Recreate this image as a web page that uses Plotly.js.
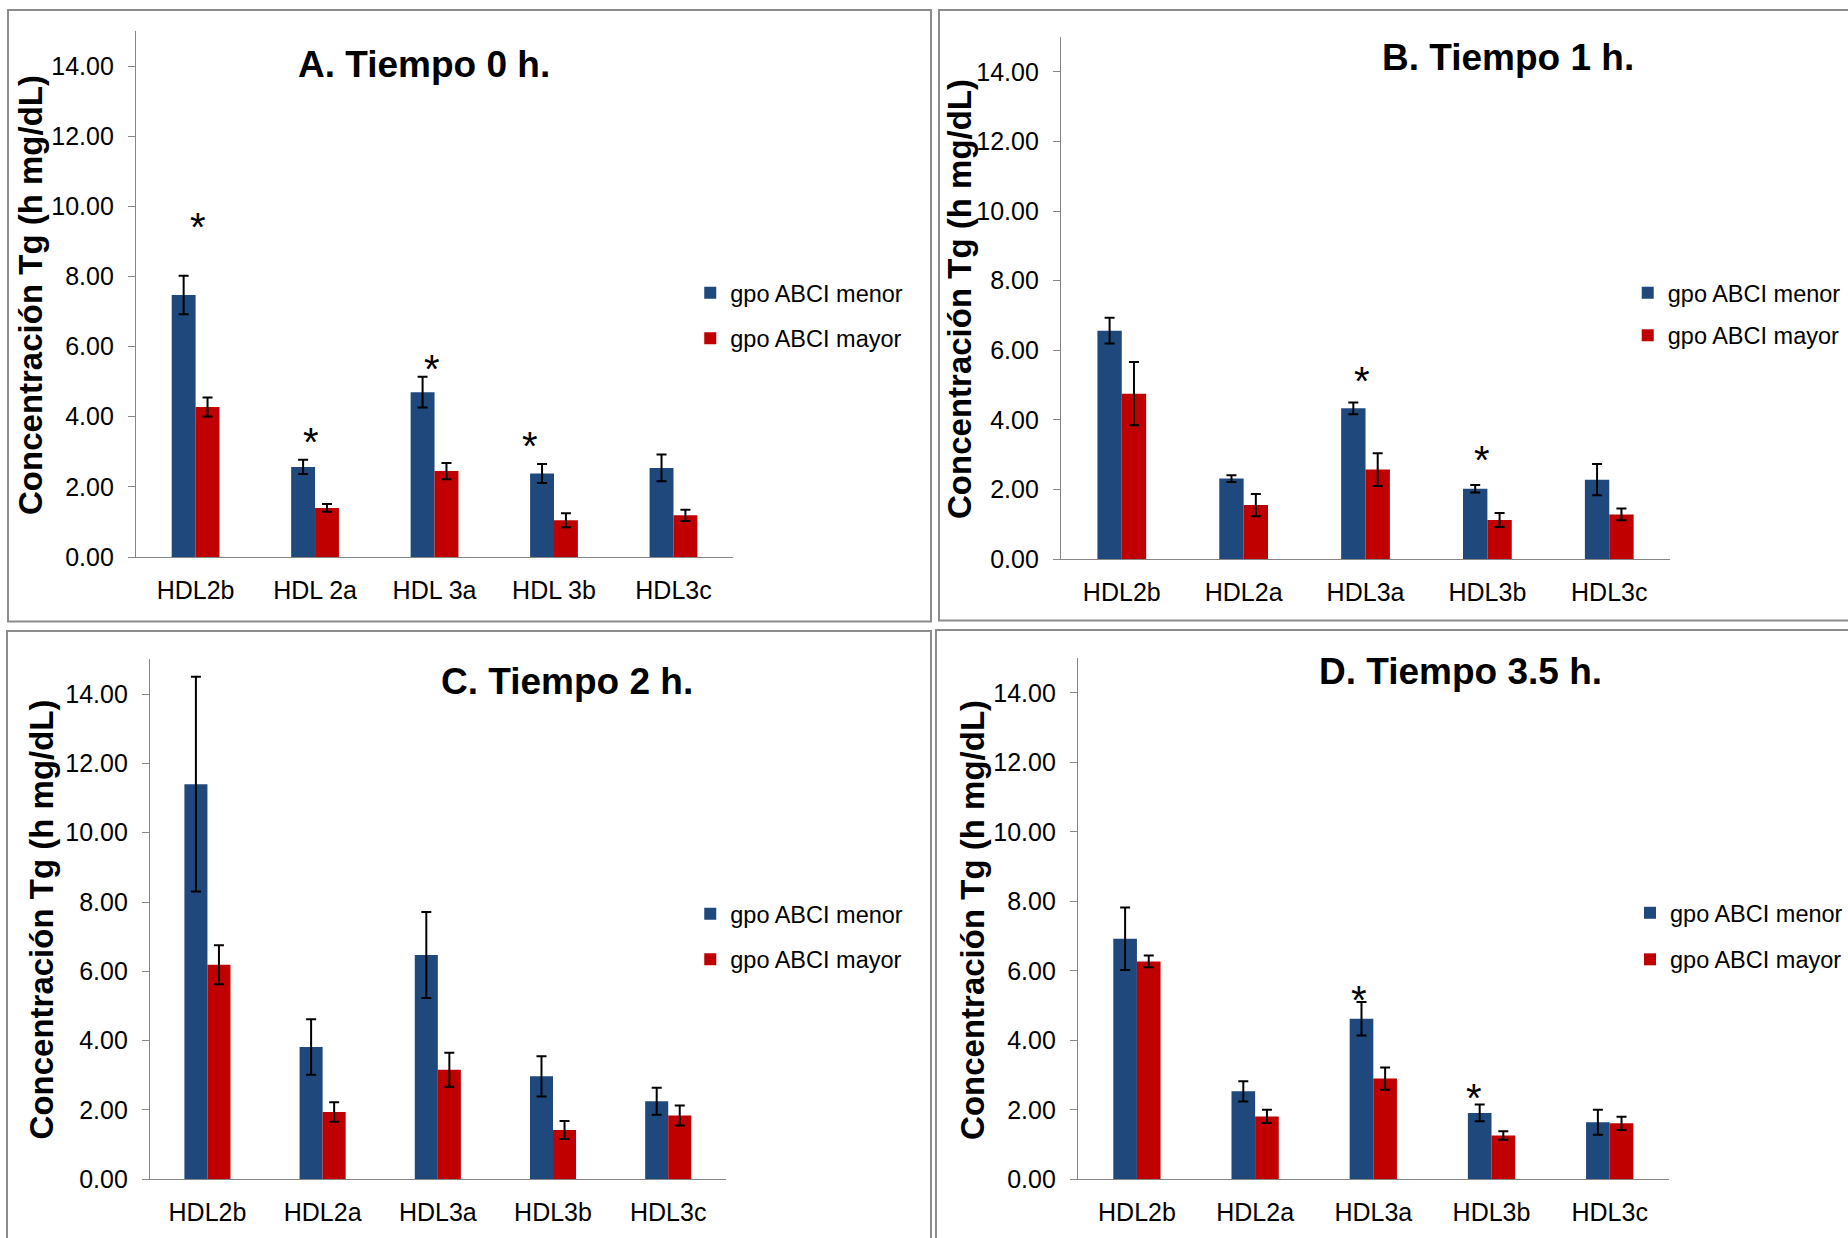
<!DOCTYPE html>
<html>
<head>
<meta charset="utf-8">
<script src="https://cdn.plot.ly/plotly-3.0.1.min.js"></script>
<style>
  html, body { margin: 0; padding: 0; background: #ffffff; }
  #chart { width: 1848px; height: 1238px; }
</style>
</head>
<body>
<div id="chart"></div>
<script>
// ---------- DATA ----------
const categoriesA = ['HDL2b', 'HDL 2a', 'HDL 3a', 'HDL 3b', 'HDL3c'];
const categoriesBCD = ['HDL2b', 'HDL2a', 'HDL3a', 'HDL3b', 'HDL3c'];

const seriesNames = ['gpo ABCI menor', 'gpo ABCI mayor'];

// A. Tiempo 0 h.
const menorA = [7.47, 2.57, 4.70, 2.38, 2.54];
const menorErrA = [0.55, 0.20, 0.44, 0.27, 0.38];
const mayorA = [4.28, 1.40, 2.45, 1.05, 1.19];
const mayorErrA = [0.27, 0.11, 0.23, 0.20, 0.16];

// B. Tiempo 1 h.
const menorB = [6.56, 2.31, 4.33, 2.02, 2.28];
const menorErrB = [0.37, 0.10, 0.17, 0.11, 0.45];
const mayorB = [4.75, 1.55, 2.57, 1.12, 1.28];
const mayorErrB = [0.91, 0.32, 0.47, 0.20, 0.17];

// C. Tiempo 2 h.
const menorC = [11.40, 3.82, 6.47, 2.97, 2.25];
const menorErrC = [3.10, 0.80, 1.24, 0.58, 0.39];
const mayorC = [6.19, 1.94, 3.16, 1.42, 1.84];
const mayorErrC = [0.56, 0.28, 0.49, 0.26, 0.29];

// D. Tiempo 3.5 h.
const menorD = [6.92, 2.53, 4.62, 1.91, 1.64];
const menorErrD = [0.90, 0.29, 0.48, 0.24, 0.36];
const mayorD = [6.27, 1.81, 2.90, 1.26, 1.61];
const mayorErrD = [0.17, 0.19, 0.32, 0.12, 0.19];

// significance marks (*)
const starCatsA = ['HDL2b', 'HDL 2a', 'HDL 3a', 'HDL 3b'];
const starYA = [9.67, 3.53, 5.63, 3.42];
const starCatsB = ['HDL3a', 'HDL3b'];
const starYB = [5.38, 3.09];
const starCatsC = [];
const starYC = [];
const starCatsD = ['HDL3a', 'HDL3b'];
const starYD = [5.43, 2.61];

const yTickVals = [0, 2, 4, 6, 8, 10, 12, 14];
const yTitle = 'Concentración Tg (h mg/dL)';

// ---------- LAYOUT HELPERS ----------
const W = 1848, H = 1238;
const FONT = 'Arial, "Liberation Sans", Helvetica, sans-serif';
const BLUE = '#1F497D', RED = '#C00000', AXIS = '#868686', FRAME = '#8C8C8C';
const px = v => v / W;
const py = v => 1 - v / H;

const panels = [
  { title: 'A. Tiempo 0 h.', cats: categoriesA, menor: menorA, menorErr: menorErrA, mayor: mayorA, mayorErr: mayorErrA,
    starCats: starCatsA, starY: starYA, starShift: [2, -4, -3, -24],
    plot: [136, 734, 31, 557], titleAt: [424, 64], yTitleAt: [30, 295], legendAt: [691, 291], rowGap: 43,
    frame: [8, 932, 10, 621.5] },
  { title: 'B. Tiempo 1 h.', cats: categoriesBCD, menor: menorB, menorErr: menorErrB, mayor: mayorB, mayorErr: mayorErrB,
    starCats: starCatsB, starY: starYB, starShift: [-4, -5],
    plot: [1062, 1672, 37, 559], titleAt: [1510, 58], yTitleAt: [960, 299], legendAt: [1629.5, 291], rowGap: 40,
    frame: [940, 1870, 10, 620.5] },
  { title: 'C. Tiempo 2 h.', cats: categoriesBCD, menor: menorC, menorErr: menorErrC, mayor: mayorC, mayorErr: mayorErrC,
    starCats: starCatsC, starY: starYC, starShift: [],
    plot: [150, 726.6, 659.4, 1179.3], titleAt: [567.6, 681], yTitleAt: [41.5, 919], legendAt: [691, 912], rowGap: 43,
    frame: [7, 932, 631, 1260] },
  { title: 'D. Tiempo 3.5 h.', cats: categoriesBCD, menor: menorD, menorErr: menorErrD, mayor: mayorD, mayorErr: mayorErrD,
    starCats: starCatsD, starY: starYD, starShift: [-14, -18],
    plot: [1079, 1670.6, 658, 1179.3], titleAt: [1461.6, 671], yTitleAt: [974, 920], legendAt: [1632, 911], rowGap: 44,
    frame: [937, 1870, 630, 1260] }
];

const data = [];
const layout = {
  width: W, height: H,
  margin: { l: 0, r: 0, t: 0, b: 0, pad: 0 },
  paper_bgcolor: '#ffffff', plot_bgcolor: '#ffffff',
  font: { family: FONT, color: '#000000' },
  barmode: 'group', bargap: 0.6, bargroupgap: 0,
  showlegend: true,
  annotations: [], shapes: []
};

panels.forEach((p, i) => {
  const n = i === 0 ? '' : String(i + 1);
  const xa = 'x' + n, ya = 'y' + n;
  const lg = 'legend' + n;
  data.push({
    type: 'bar', name: seriesNames[0], x: p.cats, y: p.menor, xaxis: xa, yaxis: ya,
    marker: { color: BLUE, line: { width: 0 } },
    error_y: { type: 'data', array: p.menorErr, visible: true, color: '#000000', thickness: 2, width: 5 },
    legend: lg, legendgroup: 'menor' + i, showlegend: true, hoverinfo: 'x+y'
  });
  data.push({
    type: 'bar', name: seriesNames[1], x: p.cats, y: p.mayor, xaxis: xa, yaxis: ya,
    marker: { color: RED, line: { width: 0 } },
    error_y: { type: 'data', array: p.mayorErr, visible: true, color: '#000000', thickness: 2, width: 5 },
    legend: lg, legendgroup: 'mayor' + i, showlegend: true, hoverinfo: 'x+y'
  });

  const [x0, x1, yTop, yBot] = p.plot;
  layout['xaxis' + n] = {
    type: 'category', domain: [px(x0), px(x1)], anchor: ya,
    showline: true, linecolor: AXIS, linewidth: 1, showgrid: false, zeroline: false,
    ticks: '', tickfont: { family: FONT, size: 25, color: '#000000' }, ticklabelstandoff: 11,
    fixedrange: true
  };
  layout['yaxis' + n] = {
    domain: [py(yBot), py(yTop)], anchor: xa, range: [0, 15],
    tickmode: 'array', tickvals: yTickVals, ticktext: yTickVals.map(v => v.toFixed(2)),
    showline: true, linecolor: AXIS, linewidth: 1, showgrid: false, zeroline: false,
    ticks: 'outside', ticklen: 7, tickcolor: AXIS, tickwidth: 1,
    tickfont: { family: FONT, size: 25, color: '#000000' }, ticklabelstandoff: 9,
    fixedrange: true
  };
  layout[lg] = {
    x: px(p.legendAt[0]), y: py(p.legendAt[1] - 20), xanchor: 'left', yanchor: 'top',
    bgcolor: 'rgba(0,0,0,0)', borderwidth: 0,
    font: { family: FONT, size: 23.5, color: '#000000' },
    traceorder: 'grouped', tracegroupgap: p.rowGap - 31, itemclick: false, itemdoubleclick: false
  };

  // panel title
  layout.annotations.push({
    xref: 'paper', yref: 'paper', x: px(p.titleAt[0]), y: py(p.titleAt[1]),
    xanchor: 'center', yanchor: 'middle', showarrow: false, text: '<b>' + p.title + '</b>',
    font: { family: FONT, size: 37, color: '#000000' }
  });
  // y-axis title
  layout.annotations.push({
    xref: 'paper', yref: 'paper', x: px(p.yTitleAt[0]), y: py(p.yTitleAt[1]),
    xanchor: 'center', yanchor: 'middle', showarrow: false, textangle: -90, text: '<b>' + yTitle + '</b>',
    font: { family: FONT, size: 33, color: '#000000' }
  });
  // significance asterisks
  p.starCats.forEach((c, k) => {
    layout.annotations.push({
      xref: xa, yref: ya, x: c, y: p.starY[k], xshift: p.starShift[k], yshift: -9,
      xanchor: 'center', yanchor: 'middle', showarrow: false, text: '*',
      font: { family: FONT, size: 40, color: '#000000' }
    });
  });
  // panel frame
  const [f0, f1, f2, f3] = p.frame;
  layout.shapes.push({
    type: 'rect', xref: 'paper', yref: 'paper', x0: px(f0), x1: px(f1), y0: py(f3), y1: py(f2),
    line: { color: FRAME, width: 2 }, fillcolor: 'rgba(0,0,0,0)', layer: 'below'
  });
});

Plotly.newPlot('chart', data, layout, { staticPlot: true, displayModeBar: false });
</script>
</body>
</html>
